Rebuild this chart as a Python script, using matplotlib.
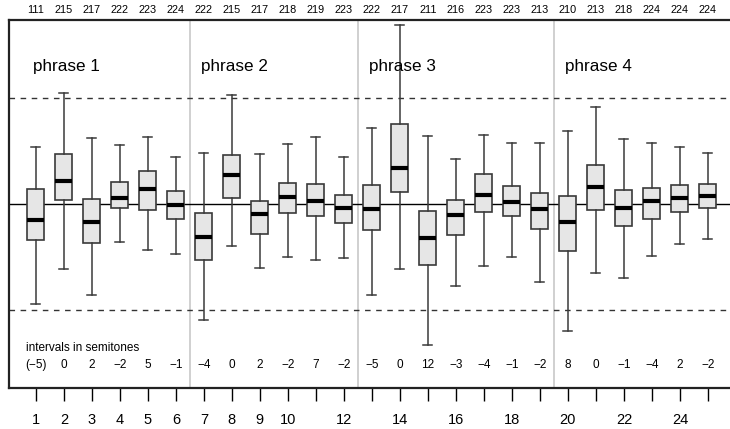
#!/usr/bin/env python3
from matplotlib import pyplot as plt
plt.rcParams['font.family'] = ['Liberation Sans', 'DejaVu Sans']

# box statistics per note position (semitones)
whishi = [6.5, 12.6, 7.5, 6.7, 7.6, 5.3,
          5.8, 12.3, 5.6, 6.8, 7.6, 5.3,
          8.6, 20.2, 7.7, 5.1, 7.8, 6.9, 6.9,
          8.2, 11.0, 7.3, 6.9, 6.4, 5.8]
q3 = [1.7, 5.7, 0.6, 2.5, 3.7, 1.5,
      -1.0, 5.5, 0.3, 2.4, 2.3, 1.0,
      2.2, 9.0, -0.8, 0.5, 3.4, 2.0, 1.2,
      0.9, 4.4, 1.6, 1.8, 2.2, 2.3]
med = [-1.85, 2.56, -2.0, 0.68, 1.7, -0.15,
       -3.77, 3.24, -1.09, 0.75, 0.34, -0.45,
       -0.53, 4.07, -3.88, -1.24, 1.02, 0.23, -0.6,
       -2.07, 1.92, -0.41, 0.3, 0.68, 0.94]
q1 = [-4.1, 0.45, -4.4, -0.45, -0.7, -1.7,
      -6.3, 0.7, -3.4, -1.0, -1.4, -2.1,
      -2.9, 1.36, -6.9, -3.5, -0.9, -1.4, -2.8,
      -5.3, -0.7, -2.45, -1.7, -0.9, -0.45]
whislo = [-11.3, -7.3, -10.25, -4.3, -5.2, -5.7,
          -13.15, -4.7, -7.2, -6.0, -6.3, -6.1,
          -10.3, -7.3, -15.9, -9.3, -7.0, -5.95, -8.8,
          -14.4, -7.8, -8.4, -5.9, -4.5, -3.9]
counts = [111, 215, 217, 222, 223, 224,
          222, 215, 217, 218, 219, 223,
          222, 217, 211, 216, 223, 223, 213,
          210, 213, 218, 224, 224, 224]
intervals = ['(\u22125)', '0', '2', '\u22122', '5', '\u22121',
             '\u22124', '0', '2', '\u22122', '7', '\u22122',
             '\u22125', '0', '12', '\u22123', '\u22124', '\u22121', '\u22122',
             '8', '0', '\u22121', '\u22124', '2', '\u22122']
phrases = ['phrase 1', 'phrase 2', 'phrase 3', 'phrase 4']
phrase_len = [6, 6, 7, 6]

fig = plt.figure(figsize=(7.3, 4.29), dpi=100)
ax = fig.add_axes([9 / 730, 41 / 429, 721 / 730, 368 / 429])

n = len(med)
pos = list(range(1, n + 1))
stats = []
for i in range(n):
    stats.append({'whislo': whislo[i], 'q1': q1[i], 'med': med[i],
                  'q3': q3[i], 'whishi': whishi[i], 'fliers': []})

ax.axhline(0, color='black', lw=1, zorder=1)
ax.axhline(12, color='#333333', lw=1, ls=(0, (4, 4)), zorder=1)
ax.axhline(-12, color='#333333', lw=1, ls=(0, (4, 4)), zorder=1)

ax.bxp(stats, positions=pos, widths=0.6, patch_artist=True,
       showfliers=False,
       boxprops=dict(facecolor='#e6e6e6', edgecolor='#3a3a3a', lw=1.2),
       whiskerprops=dict(color='#3a3a3a', lw=1.1),
       capprops=dict(color='#3a3a3a', lw=1.1),
       capwidths=0.32,
       medianprops=dict(color='black', lw=3, solid_capstyle='butt'),
       zorder=3)

# phrase separators and labels
start = 0.5
for k, L in enumerate(phrase_len):
    ax.text(start + 0.4, 15.5, phrases[k], fontsize=12.3, ha='left',
            va='center')
    start += L
    if k < len(phrase_len) - 1:
        ax.axvline(start, color='#c8c8c8', lw=1.2, zorder=0)

# counts above the plot
for p, c in zip(pos, counts):
    ax.text(p, 21.9, str(c), fontsize=7.8, ha='center', va='center',
            clip_on=False)

# intervals row
ax.text(0.64, -16.3, 'intervals in semitones', fontsize=8.5, ha='left',
        va='center')
for p, s in zip(pos, intervals):
    ax.text(p, -18.2, s, fontsize=8.5, ha='center', va='center')

ax.set_xlim(0.04, 25.79)
ax.set_ylim(-20.8, 20.8)
ax.set_xticks(pos)
shown = set(list(range(1, 11)) + [12, 14, 16, 18, 20, 22, 24])
ax.set_xticklabels([str(p) if p in shown else '' for p in pos], fontsize=10.5)
ax.tick_params(axis='x', direction='out', length=9, width=1,
               pad=9, color='black')
ax.set_yticks([])
ax.spines['right'].set_visible(False)
for s in ['top', 'left', 'bottom']:
    ax.spines[s].set_linewidth(1.6)
    ax.spines[s].set_color('#222222')

plt.savefig('out.png', dpi=100)
